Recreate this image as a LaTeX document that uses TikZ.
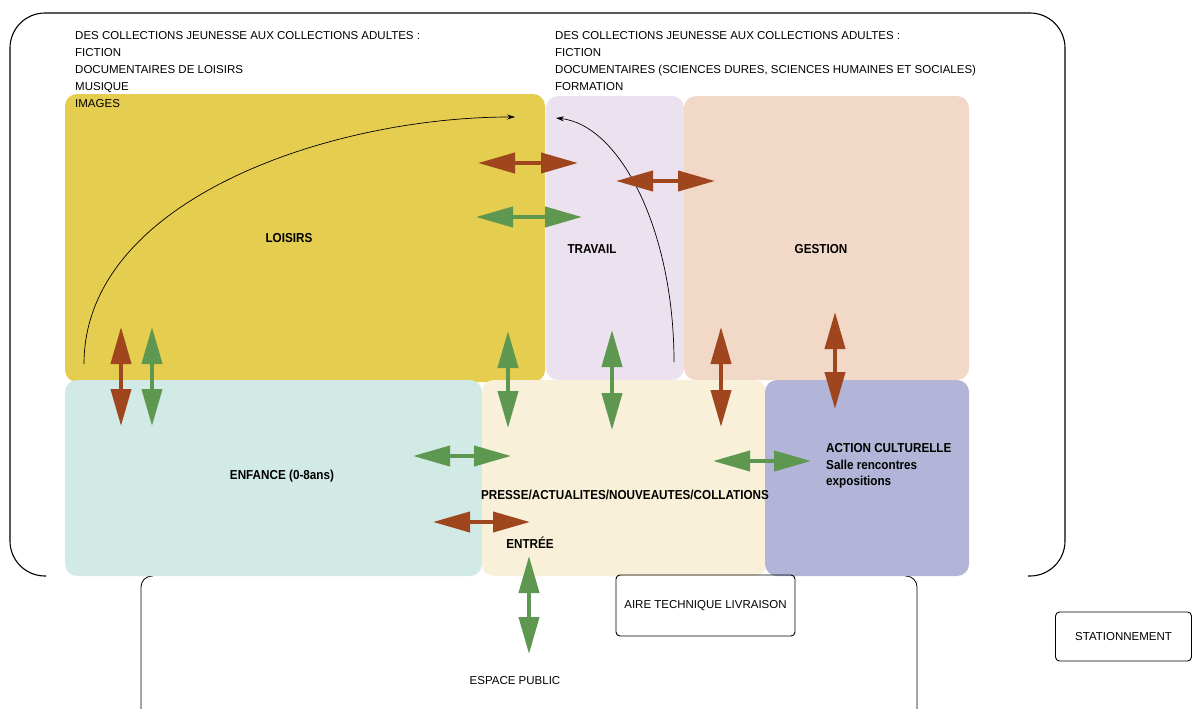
\documentclass[tikz,border=0pt]{standalone}
\usepackage{fontspec}
\setmainfont{Liberation Sans}
\newfontfamily\zonefont[FakeStretch=0.9]{Liberation Sans}
\usetikzlibrary{arrows.meta}

\definecolor{jaune}{RGB}{229,205,80}
\definecolor{lavande}{RGB}{236,225,238}
\definecolor{peche}{RGB}{242,216,199}
\definecolor{turquoise}{RGB}{210,234,229}
\definecolor{creme}{RGB}{248,240,216}
\definecolor{bleu}{RGB}{178,181,215}
\definecolor{brun}{RGB}{160,70,30}
\definecolor{vert}{RGB}{94,152,80}

\tikzset{
  zone/.style={rounded corners=12pt},
  titre/.style={font=\zonefont\bfseries\fontsize{13}{16.5}\selectfont, inner sep=0pt, anchor=base},
  liste/.style={font=\fontsize{11.5}{17}\selectfont, align=left, anchor=north west, inner sep=0pt},
  texte/.style={font=\fontsize{11.5}{14}\selectfont, inner sep=0pt},
  fleche/.style={line width=4pt, {Triangle[length=37pt,width=20pt]}-{Triangle[length=37pt,width=20pt]}},
  flechebrun/.style={fleche, draw=brun},
  flechevert/.style={fleche, draw=vert},
  parcours/.style={line width=0.7pt, -{Stealth[length=8pt,width=5pt]}}
}

\begin{document}
\begin{tikzpicture}[x=1pt,y=-1pt]
\useasboundingbox (0,0) rectangle (1196,709);

% Cadres
\draw[line width=1.1pt, rounded corners=35pt] (46,576) -- (10,576) -- (10,13) -- (1065,13) -- (1065,576) -- (1028,576);
\draw[line width=0.8pt, rounded corners=11pt] (153,576) -- (141,576) -- (141,715);
\draw[line width=0.8pt, rounded corners=11pt] (905,576) -- (917,576) -- (917,715);

% Zones
\fill[zone, fill=jaune] (65,94) rectangle (545,382);
\fill[zone, fill=lavande] (546,96) rectangle (684,380);
\fill[zone, fill=peche] (684,96) rectangle (969,380);
\fill[zone, fill=turquoise] (65,380) rectangle (482,576);
\fill[zone, fill=creme] (482,380) rectangle (766,576);
\fill[zone, fill=bleu] (765,380) rectangle (969,576);

% Collections
\node[liste] (collgauche) at (75,31.3) {DES COLLECTIONS JEUNESSE AUX COLLECTIONS ADULTES :\\
FICTION\\
DOCUMENTAIRES DE LOISIRS\\
MUSIQUE\\
IMAGES};
\node[liste] (colldroite) at (555,31.3) {DES COLLECTIONS JEUNESSE AUX COLLECTIONS ADULTES :\\
FICTION\\
DOCUMENTAIRES (SCIENCES DURES, SCIENCES HUMAINES ET SOCIALES)\\
FORMATION};

% Noms des zones
\node[titre] (loisirs) at (289,242) {LOISIRS};
\node[titre] (travail) at (592,253) {TRAVAIL};
\node[titre] (gestion) at (821,253) {GESTION};
\node[titre] (enfance) at (282,479) {ENFANCE (0-8ans)};
\node[titre] (presse) at (625,499) {PRESSE/ACTUALITES/NOUVEAUTES/COLLATIONS};
\node[titre] (entree) at (530,548) {ENTRÉE};
\node[titre, align=left, anchor=north west] (action) at (826,443.7) {ACTION CULTURELLE\\Salle rencontres\\expositions};

% Exterieur
\node[texte, draw, line width=0.9pt, rounded corners=4pt, minimum width=179pt, minimum height=61pt] (livraison) at (705.5,605.5) {AIRE TECHNIQUE LIVRAISON};
\node[texte, draw, line width=0.9pt, rounded corners=4pt, minimum width=136pt, minimum height=49pt] (stationnement) at (1123.5,636.5) {STATIONNEMENT};
\node[texte, anchor=base] (public) at (515,684) {ESPACE PUBLIC};

% Parcours
\coordinate (depart1) at (84,364);
\coordinate (arrivee1) at (515,117);
\coordinate (depart2) at (674,362);
\coordinate (arrivee2) at (556,118);
\draw[parcours] (depart1) .. controls (84,200) and (330,117) .. (arrivee1);
\draw[parcours] (depart2) .. controls (674,230) and (620,125) .. (arrivee2);

% Liaisons
\coordinate (lt1) at (478,163); \coordinate (lt2) at (578,163);
\coordinate (lv1) at (476,217); \coordinate (lv2) at (582,217);
\coordinate (tg1) at (616,181); \coordinate (tg2) at (715,181);
\coordinate (eb1) at (121,327); \coordinate (eb2) at (121,426);
\coordinate (ev1) at (152,327); \coordinate (ev2) at (152,426);
\coordinate (lp1) at (508,331); \coordinate (lp2) at (508,428);
\coordinate (tp1) at (612,330); \coordinate (tp2) at (612,430);
\coordinate (gp1) at (721,327); \coordinate (gp2) at (721,427);
\coordinate (ga1) at (835,312); \coordinate (ga2) at (835,409);
\coordinate (ep1) at (413,456); \coordinate (ep2) at (511,456);
\coordinate (ee1) at (433,522); \coordinate (ee2) at (530,522);
\coordinate (pa1) at (713,461); \coordinate (pa2) at (811,461);
\coordinate (es1) at (529,556); \coordinate (es2) at (529,654);

\draw[flechebrun] (lt1) -- (lt2);
\draw[flechevert] (lv1) -- (lv2);
\draw[flechebrun] (tg1) -- (tg2);
\draw[flechebrun] (eb1) -- (eb2);
\draw[flechevert] (ev1) -- (ev2);
\draw[flechevert] (lp1) -- (lp2);
\draw[flechevert] (tp1) -- (tp2);
\draw[flechebrun] (gp1) -- (gp2);
\draw[flechebrun] (ga1) -- (ga2);
\draw[flechevert] (ep1) -- (ep2);
\draw[flechebrun] (ee1) -- (ee2);
\draw[flechevert] (pa1) -- (pa2);
\draw[flechevert] (es1) -- (es2);
\end{tikzpicture}
\end{document}
